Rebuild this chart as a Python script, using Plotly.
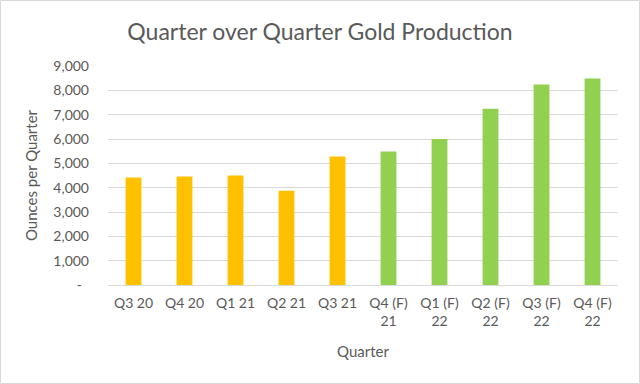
import plotly.graph_objects as go

categories = ["Q3 20", "Q4 20", "Q1 21", "Q2 21", "Q3 21",
              "Q4 (F)<br>21", "Q1 (F)<br>22", "Q2 (F)<br>22", "Q3 (F)<br>22", "Q4 (F)<br>22"]
ounces = [4420, 4460, 4500, 3870, 5280, 5490, 6000, 7240, 8240, 8490]
bar_colors = ["#FFC000"] * 5 + ["#92D050"] * 5
tick_vals = [0, 1000, 2000, 3000, 4000, 5000, 6000, 7000, 8000, 9000]
tick_text = ["-\u00a0\u00a0", "1,000", "2,000", "3,000", "4,000", "5,000", "6,000", "7,000", "8,000", "9,000"]

font_family = "Lato, 'Open Sans', sans-serif"
grey = "#595959"
W, H = 640, 384
ML, MR, MT, MB = 108, 22, 66, 99
pw, ph = W - ML - MR, H - MT - MB

fig = go.Figure(go.Bar(x=categories, y=ounces, marker_color=bar_colors, marker_line_width=0))

fig.update_layout(
    width=W, height=H,
    paper_bgcolor="white", plot_bgcolor="white",
    margin=dict(l=ML, r=MR, t=MT, b=MB),
    bargap=0.69,
    showlegend=False,
    title=dict(text="Quarter over Quarter Gold Production", x=0.5, xanchor="center",
               y=1 - 32 / H, yanchor="middle", font=dict(family=font_family, size=23, color=grey)),
    font=dict(family=font_family, color=grey, size=14),
)
fig.update_xaxes(title=dict(text="Quarter", font=dict(size=15, color=grey), standoff=18),
                 showline=True, linecolor="#D9D9D9", linewidth=1, ticks="",
                 tickfont=dict(size=14, color=grey), ticklabelstandoff=5)
fig.update_yaxes(title=dict(text="Ounces per Quarter", font=dict(size=15, color=grey), standoff=12),
                 range=[0, 9000], tickvals=tick_vals, ticktext=tick_text,
                 showgrid=True, gridcolor="#D9D9D9", gridwidth=1, zeroline=False,
                 tickfont=dict(size=14, color=grey), ticks="", ticklabelstandoff=18)
fig.add_shape(type="rect", xref="paper", yref="paper",
              x0=(-ML + 0.5) / pw, x1=1 + (MR - 0.5) / pw,
              y0=(-MB + 0.5) / ph, y1=1 + (MT - 0.5) / ph,
              line=dict(color="#D9D9D9", width=1), layer="below")
fig.write_html("out.html", config={"displayModeBar": False},
               post_script="document.body.style.margin='0';")
